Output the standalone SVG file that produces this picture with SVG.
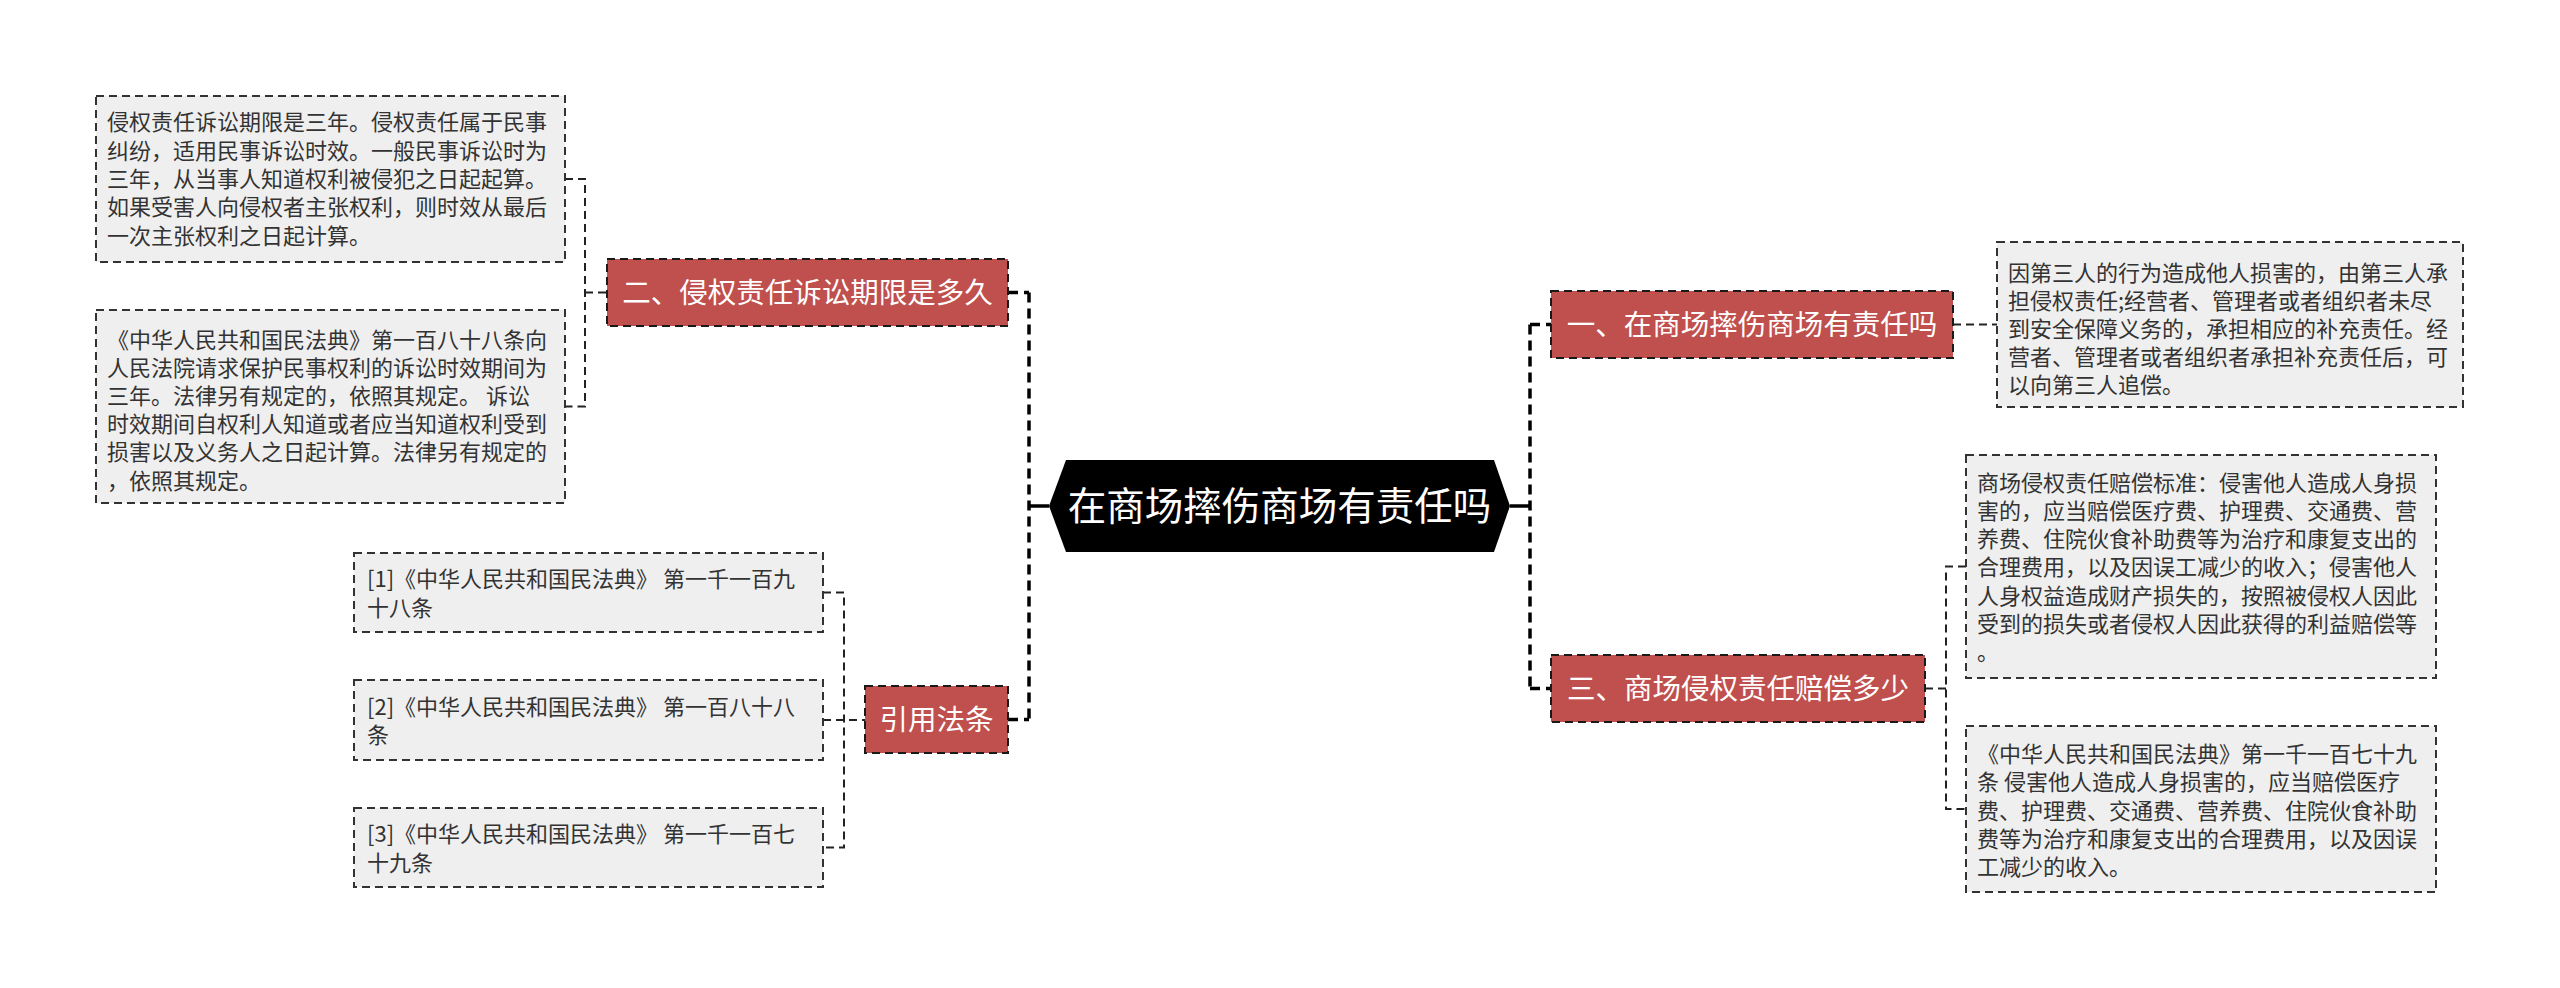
<svg xmlns="http://www.w3.org/2000/svg" width="2560" height="988" viewBox="0 0 2560 988">
<style>
.bg{fill:#ffffff}
.box{fill:#efefef;stroke:#333333;stroke-width:2;stroke-dasharray:8 5}
.red{fill:#c0504d;stroke:#1a1a1a;stroke-width:2;stroke-dasharray:8 5}
.t{font-family:"Noto Sans CJK SC","Microsoft YaHei",sans-serif;font-size:22px;fill:#333333}
.rt{font-family:"Noto Sans CJK SC","Microsoft YaHei",sans-serif;font-size:28.5px;fill:#ffffff;text-anchor:middle}
.ct{font-family:"Noto Sans CJK SC","Microsoft YaHei",sans-serif;font-size:38.5px;fill:#ffffff;text-anchor:middle}
.main{fill:none;stroke:#000000;stroke-width:3.5;stroke-dasharray:10 6}
.solid{fill:none;stroke:#000000;stroke-width:3.5}
.sub{fill:none;stroke:#222222;stroke-width:2;stroke-dasharray:8 5}
</style>
<rect class="bg" x="0" y="0" width="2560" height="988"/>
<g id="connectors">
<path class="main" d="M1029 292.5 V719.5"/>
<path class="main" d="M1008 292.5 H1029 M1008 719.5 H1029"/>
<path class="solid" d="M1049 506 H1029"/>
<path class="main" d="M1530 324.5 V688.5"/>
<path class="main" d="M1530 324.5 H1551 M1530 688.5 H1551"/>
<path class="solid" d="M1510 506 H1530"/>
<path class="sub" d="M565 179 H585 V406.5 H565 M585 292.5 H607"/>
<path class="sub" d="M823 592.5 H844 V847.5 H823 M823 720 H865"/>
<path class="sub" d="M1953 324.5 H1997"/>
<path class="sub" d="M1925 688.5 H1946 M1966 566.5 H1946 V809 H1966"/>
</g>
<g id="center">
<polygon points="1049,506 1066,460 1494,460 1510,506 1494,552 1066,552" fill="#000000"/>
<text class="ct" x="1279.5" y="520">在商场摔伤商场有责任吗</text>
</g>
<g id="n2">
<rect class="red" x="607" y="259" width="401" height="67"/>
<text class="rt" x="807.5" y="303">二、侵权责任诉讼期限是多久</text>
</g>
<g id="n2a">
<rect class="box" x="96" y="96" width="469" height="166"/>
<text class="t" x="107" y="130">侵权责任诉讼期限是三年。侵权责任属于民事</text>
<text class="t" x="107" y="158.5">纠纷，适用民事诉讼时效。一般民事诉讼时为</text>
<text class="t" x="107" y="187">三年，从当事人知道权利被侵犯之日起起算。</text>
<text class="t" x="107" y="215">如果受害人向侵权者主张权利，则时效从最后</text>
<text class="t" x="107" y="243.5">一次主张权利之日起计算。</text>
</g>
<g id="n2b">
<rect class="box" x="96" y="310" width="469" height="193"/>
<text class="t" x="107" y="347.5">《中华人民共和国民法典》第一百八十八条向</text>
<text class="t" x="107" y="375.5">人民法院请求保护民事权利的诉讼时效期间为</text>
<text class="t" x="107" y="403.5">三年。法律另有规定的，依照其规定。 诉讼</text>
<text class="t" x="107" y="431.5">时效期间自权利人知道或者应当知道权利受到</text>
<text class="t" x="107" y="460">损害以及义务人之日起计算。法律另有规定的</text>
<text class="t" x="107" y="488.5">，依照其规定。</text>
</g>
<g id="nref">
<rect class="red" x="865" y="686" width="143" height="67"/>
<text class="rt" x="936.5" y="730">引用法条</text>
</g>
<g id="ref1">
<rect class="box" x="354" y="553" width="469" height="79"/>
<text class="t" x="367" y="586.5">[1]《中华人民共和国民法典》 第一千一百九</text>
<text class="t" x="367" y="615.5">十八条</text>
</g>
<g id="ref2">
<rect class="box" x="354" y="680" width="469" height="80"/>
<text class="t" x="367" y="714.5">[2]《中华人民共和国民法典》 第一百八十八</text>
<text class="t" x="367" y="742.5">条</text>
</g>
<g id="ref3">
<rect class="box" x="354" y="808" width="469" height="79"/>
<text class="t" x="367" y="841.5">[3]《中华人民共和国民法典》 第一千一百七</text>
<text class="t" x="367" y="870.5">十九条</text>
</g>
<g id="n1">
<rect class="red" x="1551" y="291" width="402" height="67"/>
<text class="rt" x="1752" y="335">一、在商场摔伤商场有责任吗</text>
</g>
<g id="n1a">
<rect class="box" x="1997" y="242" width="466" height="165"/>
<text class="t" x="2008" y="280.5">因第三人的行为造成他人损害的，由第三人承</text>
<text class="t" x="2008" y="308.5">担侵权责任;经营者、管理者或者组织者未尽</text>
<text class="t" x="2008" y="336.5">到安全保障义务的，承担相应的补充责任。经</text>
<text class="t" x="2008" y="365">营者、管理者或者组织者承担补充责任后，可</text>
<text class="t" x="2008" y="392.5">以向第三人追偿。</text>
</g>
<g id="n3">
<rect class="red" x="1551" y="655" width="374" height="67"/>
<text class="rt" x="1738" y="699">三、商场侵权责任赔偿多少</text>
</g>
<g id="n3a">
<rect class="box" x="1966" y="455" width="470" height="223"/>
<text class="t" x="1977" y="490.5">商场侵权责任赔偿标准：侵害他人造成人身损</text>
<text class="t" x="1977" y="518.5">害的，应当赔偿医疗费、护理费、交通费、营</text>
<text class="t" x="1977" y="546.5">养费、住院伙食补助费等为治疗和康复支出的</text>
<text class="t" x="1977" y="575">合理费用，以及因误工减少的收入；侵害他人</text>
<text class="t" x="1977" y="603.5">人身权益造成财产损失的，按照被侵权人因此</text>
<text class="t" x="1977" y="631.5">受到的损失或者侵权人因此获得的利益赔偿等</text>
<text class="t" x="1977" y="660">。</text>
</g>
<g id="n3b">
<rect class="box" x="1966" y="726" width="470" height="166"/>
<text class="t" x="1977" y="761.5">《中华人民共和国民法典》第一千一百七十九</text>
<text class="t" x="1977" y="790">条 侵害他人造成人身损害的，应当赔偿医疗</text>
<text class="t" x="1977" y="818.5">费、护理费、交通费、营养费、住院伙食补助</text>
<text class="t" x="1977" y="846.5">费等为治疗和康复支出的合理费用，以及因误</text>
<text class="t" x="1977" y="875">工减少的收入。</text>
</g>
</svg>
